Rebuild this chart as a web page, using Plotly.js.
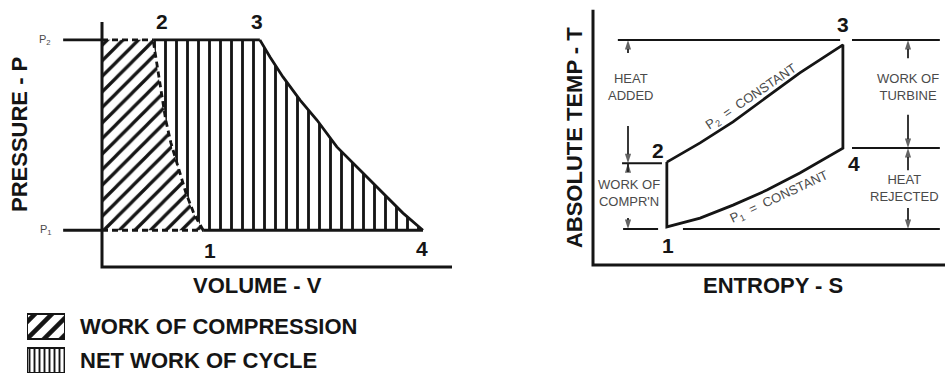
<!DOCTYPE html>
<html><head><meta charset="utf-8">
<script src="https://cdn.plot.ly/plotly-3.0.1.min.js"></script>
<style>html,body{margin:0;padding:0;background:#fff}#chart{width:945px;height:373px}</style>
</head><body><div id="chart"></div>
<script>
// ---------- P-V diagram (Brayton cycle) ----------
const P1 = 1.05, P2 = 6.49;                 // pressure levels
const pvStateLabels = ['1', '2', '3', '4'];
const pvStateV = [2.89, 1.46, 4.51, 9.17];
const pvStateP = [1.05, 6.49, 6.49, 1.05];
// compression curve 1 -> 2
const pvCompV = [2.89, 2.62, 2.40, 2.17, 1.97, 1.82, 1.72, 1.61, 1.46];
const pvCompP = [1.05, 1.54, 2.11, 2.86, 3.54, 4.20, 4.86, 5.63, 6.49];
// expansion curve 3 -> 4
const pvExpV = [4.51, 4.80, 5.17, 5.66, 6.14, 6.71, 7.37, 8.03, 8.60, 9.17];
const pvExpP = [6.49, 6.00, 5.43, 4.77, 4.20, 3.43, 2.77, 2.11, 1.54, 1.05];
const pvAxisVmax = 10.0, pvAxisPmax = 7.0, pvLeadV = -1.11;

// ---------- T-S diagram ----------
const tsStateLabels = ['1', '2', '3', '4'];
const tsStateS = [2.11, 2.11, 7.14, 7.14];
const tsStateT = [1.09, 2.94, 6.29, 3.34];
// P2 = constant, 2 -> 3
const tsHighS = [2.11, 3.06, 4.00, 4.97, 5.91, 7.14];
const tsHighT = [2.94, 3.49, 4.09, 4.80, 5.49, 6.29];
// P1 = constant, 1 -> 4
const tsLowS = [2.11, 3.06, 4.00, 4.97, 5.91, 7.14];
const tsLowT = [1.09, 1.34, 1.71, 2.14, 2.63, 3.34];
// guide levels T3, T2, T4, T1
const tsGuideT = [6.43, 2.91, 3.34, 1.03];
const tsGuideSegs = [[0, 0.71, 7.06], [0, 7.40, 9.91], [1, 0.83, 1.97], [2, 7.40, 9.91], [3, 0.86, 1.86], [3, 2.57, 9.91]];
const tsAxisSmax = 10.06, tsAxisTmax = 7.29;
// dimension arrows: [S, head T, tail T]
const tsArrows = [[1.0, 6.43, 6.06], [1.0, 2.91, 3.97], [1.0, 2.91, 2.66], [1.0, 1.03, 1.34],
                  [9.0, 6.43, 5.91], [9.0, 3.34, 4.29], [9.0, 3.34, 2.71], [9.0, 1.03, 1.63]];

// ---------- legend ----------
const legendLabels = ['NET WORK OF CYCLE', 'WORK OF COMPRESSION'];
const legendPatterns = ['|', '/'];
const legendPatternSizes = [5, 12];

const INK = '#151515';
const FAM = 'Liberation Sans, Arial, Helvetica, sans-serif';
const bold = s => ({family: FAM, size: s, color: INK, weight: 'bold'});
const light = s => ({family: FAM, size: s, color: '#4a4a4a'});

const traces = [];
// hatched areas
traces.push({
  type: 'scatter', mode: 'lines', xaxis: 'x', yaxis: 'y', hoverinfo: 'skip',
  x: [0].concat(pvCompV, [0]), y: [P1].concat(pvCompP, [P2]),
  fill: 'toself', fillcolor: 'white', line: {width: 0, color: 'rgba(0,0,0,0)'},
  fillpattern: {shape: '/', size: 11, solidity: 0.3, fgcolor: INK, bgcolor: 'white'}
});
traces.push({
  type: 'scatter', mode: 'lines', xaxis: 'x', yaxis: 'y', hoverinfo: 'skip',
  x: pvExpV.concat(pvCompV), y: pvExpP.concat(pvCompP),
  fill: 'toself', fillcolor: 'white', line: {width: 0, color: 'rgba(0,0,0,0)'},
  fillpattern: {shape: '|', size: 11, solidity: 0.26, fgcolor: INK, bgcolor: 'white'}
});
// dashed parts
traces.push({
  type: 'scatter', mode: 'lines', xaxis: 'x', yaxis: 'y', hoverinfo: 'skip',
  x: [0, pvStateV[1], null, 0, pvStateV[0], null].concat(pvCompV),
  y: [P2, P2, null, P1, P1, null].concat(pvCompP),
  line: {color: INK, width: 2.8, dash: '6px,4px'}
});
// solid pressure lines and expansion curve
traces.push({
  type: 'scatter', mode: 'lines', xaxis: 'x', yaxis: 'y', hoverinfo: 'skip',
  x: [pvLeadV, 0, null, pvLeadV, 0, null, pvStateV[1], pvStateV[2], null, pvStateV[0], pvStateV[3], null].concat(pvExpV),
  y: [P2, P2, null, P1, P1, null, P2, P2, null, P1, P1, null].concat(pvExpP),
  line: {color: INK, width: 2.8}
});
// PV axes
traces.push({
  type: 'scatter', mode: 'lines', xaxis: 'x', yaxis: 'y', hoverinfo: 'skip',
  x: [0, 0, pvAxisVmax], y: [pvAxisPmax, 0, 0],
  line: {color: INK, width: 3}
});

// TS guides
const gx = [], gy = [];
tsGuideSegs.forEach(s => { gx.push(s[1], s[2], null); gy.push(tsGuideT[s[0]], tsGuideT[s[0]], null); });
traces.push({
  type: 'scatter', mode: 'lines', xaxis: 'x2', yaxis: 'y2', hoverinfo: 'skip',
  x: gx, y: gy, line: {color: INK, width: 2}
});
// TS cycle loop
traces.push({
  type: 'scatter', mode: 'lines', xaxis: 'x2', yaxis: 'y2', hoverinfo: 'skip',
  x: tsHighS.concat(tsLowS.slice().reverse(), [tsHighS[0]]),
  y: tsHighT.concat(tsLowT.slice().reverse(), [tsHighT[0]]),
  line: {color: INK, width: 2.8}
});
// TS axes
traces.push({
  type: 'scatter', mode: 'lines', xaxis: 'x2', yaxis: 'y2', hoverinfo: 'skip',
  x: [0, 0, tsAxisSmax], y: [tsAxisTmax, 0, 0],
  line: {color: INK, width: 3}
});
// dimension arrows
tsArrows.forEach(a => traces.push({
  type: 'scatter', mode: 'lines+markers', xaxis: 'x2', yaxis: 'y2', hoverinfo: 'skip',
  x: [a[0], a[0]], y: [a[2], a[1]],
  line: {color: '#222', width: 1.8},
  marker: {symbol: 'arrow', size: [0, 10], angleref: 'previous', color: '#222', line: {width: 0}}
}));

// legend swatches as bars
traces.push({
  type: 'bar', orientation: 'h', xaxis: 'x3', yaxis: 'y3', hoverinfo: 'skip',
  y: legendLabels, x: legendLabels.map(() => 1),
  marker: {color: 'white', line: {color: INK, width: 2},
    pattern: {shape: legendPatterns, size: legendPatternSizes, solidity: 0.38, fgcolor: INK, bgcolor: 'white'}}
});

const ann = [];
const pvShift = [[7, -20], [9, 18], [-3, 18], [-1, -18]];
pvStateLabels.forEach((t, i) => ann.push({xref: 'x', yref: 'y', x: pvStateV[i], y: pvStateP[i], text: t,
  showarrow: false, font: bold(21), xshift: pvShift[i][0], yshift: pvShift[i][1]}));
const tsShift = [[1, -19], [-9, 12], [0, 20], [11, -15]];
tsStateLabels.forEach((t, i) => ann.push({xref: 'x2', yref: 'y2', x: tsStateS[i], y: tsStateT[i], text: t,
  showarrow: false, font: bold(21), xshift: tsShift[i][0], yshift: tsShift[i][1]}));

const C = {xanchor: 'center', yanchor: 'middle', showarrow: false};
ann.push(Object.assign({xref: 'x', yref: 'y', x: -1.63, y: P2, text: 'P<sub>2</sub>', font: light(11)}, C));
ann.push(Object.assign({xref: 'x', yref: 'y', x: -1.60, y: P1, text: 'P<sub>1</sub>', font: light(11)}, C));
ann.push(Object.assign({xref: 'paper', yref: 'paper', x: 19 / 945, y: (373 - 135) / 373, text: 'PRESSURE - P', textangle: -90, font: bold(22)}, C));
ann.push(Object.assign({xref: 'paper', yref: 'paper', x: 257 / 945, y: (373 - 285) / 373, text: 'VOLUME - V', font: bold(22)}, C));
ann.push(Object.assign({xref: 'x2', yref: 'y2', x: -0.51, y: 3.63, text: 'ABSOLUTE TEMP - T', textangle: -90, font: bold(22)}, C));
ann.push(Object.assign({xref: 'paper', yref: 'paper', x: 773 / 945, y: (373 - 285) / 373, text: 'ENTROPY - S', font: bold(22)}, C));

ann.push(Object.assign({xref: 'x2', yref: 'y2', x: 1.09, y: 5.09, text: 'HEAT<br>ADDED', font: light(13)}, C));
ann.push(Object.assign({xref: 'x2', yref: 'y2', x: 1.03, y: 2.06, text: "WORK OF<br>COMPR'N", font: light(13)}, C));
ann.push(Object.assign({xref: 'x2', yref: 'y2', x: 9.0, y: 5.09, text: 'WORK OF<br>TURBINE', font: light(13)}, C));
ann.push(Object.assign({xref: 'x2', yref: 'y2', x: 8.91, y: 2.2, text: 'HEAT<br>REJECTED', font: light(13)}, C));
ann.push(Object.assign({xref: 'x2', yref: 'y2', x: 4.51, y: 4.8, text: 'P<sub>2</sub>\u00a0\u00a0=\u00a0\u00a0CONSTANT', textangle: -34, font: light(13)}, C));
ann.push(Object.assign({xref: 'x2', yref: 'y2', x: 5.31, y: 1.94, text: 'P<sub>1</sub>\u00a0\u00a0=\u00a0\u00a0CONSTANT', textangle: -25, font: light(13)}, C));

const hid = {visible: false, fixedrange: true};
const layout = {
  width: 945, height: 373, margin: {l: 0, r: 0, t: 0, b: 0},
  paper_bgcolor: 'white', plot_bgcolor: 'rgba(0,0,0,0)', showlegend: false, bargap: 0.265,
  xaxis: Object.assign({domain: [39 / 945, 459 / 945], range: [-1.8, 10.2]}, hid),
  yaxis: Object.assign({domain: [99 / 373, 358 / 373], range: [-0.2, 7.2]}, hid),
  xaxis2: Object.assign({domain: [516 / 945, 1], range: [-2.2, 352 / 35]}, hid),
  yaxis2: Object.assign({domain: [101 / 373, 370.5 / 373], range: [-0.2, 7.5]}, hid),
  xaxis3: Object.assign({domain: [27 / 945, 65 / 945], range: [0, 1]}, hid),
  yaxis3: {domain: [0, 68 / 373], range: [-0.368, 1.632], type: 'category', side: 'right', anchor: 'x3',
    showgrid: false, zeroline: false, showline: false, ticks: '', fixedrange: true,
    tickfont: bold(22), ticklabelstandoff: 14},
  annotations: ann
};
Plotly.newPlot('chart', traces, layout, {staticPlot: true, displayModeBar: false});
</script></body></html>
